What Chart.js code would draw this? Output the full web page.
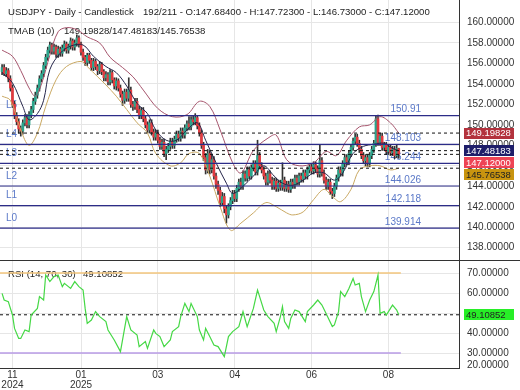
<!DOCTYPE html>
<html>
<head>
<meta charset="utf-8">
<script src="https://cdn.jsdelivr.net/npm/chart.js@4.4.1/dist/chart.umd.min.js"></script>
<style>
html, body { margin: 0; padding: 0; background: #fff; }
#wrap { position: relative; width: 520px; height: 390px; overflow: hidden; }
canvas { position: absolute; left: 0; }
#main { top: 0; }
#rsi { top: 261px; }
</style>
</head>
<body>
<div id="wrap">
  <canvas id="main" width="520" height="261"></canvas>
  <canvas id="rsi" width="520" height="129"></canvas>
</div>
<script>
// candles (bar index 0..191)
const opens = [
  155.2, 155.6, 155.0, 155.3, 154.5, 153.6, 152.0, 150.9, 150.3, 149.6,
  149.4, 150.2, 150.7, 150.0, 151.0, 151.5, 152.3, 152.9, 153.6, 154.5,
  155.0, 155.8, 156.6, 157.3, 157.8, 157.2, 157.6, 156.9, 157.4, 157.0,
  157.5, 157.9, 157.3, 157.7, 158.2, 157.6, 158.0, 158.5, 157.9, 157.1,
  156.6, 156.1, 156.8, 156.3, 155.6, 156.2, 155.7, 155.3, 155.9, 155.2,
  154.6, 154.9, 154.2, 155.1, 154.4, 153.8, 154.3, 153.6, 153.0, 152.4,
  153.2, 152.6, 153.4, 152.0, 151.8, 152.3, 151.5, 150.9, 151.4, 150.6,
  150.0, 149.5, 150.2, 149.3, 148.8, 149.2, 148.5, 147.9, 148.3, 147.2,
  147.6, 147.9, 148.4, 148.0, 148.6, 149.1, 148.7, 149.4, 149.0, 149.7,
  150.1, 149.8, 150.5, 150.3, 150.7, 149.9, 149.2, 148.0, 146.8, 145.6,
  147.2, 145.6, 146.6, 145.0, 144.2, 143.6, 142.4, 143.0, 141.8, 141.2,
  142.0, 142.6, 143.3, 142.8, 143.8, 144.4, 144.0, 145.2, 144.8, 145.6,
  145.0, 145.8, 146.2, 145.4, 147.0, 146.0, 145.6, 145.0, 144.4, 145.2,
  144.6, 144.0, 144.5, 143.8, 144.3, 143.9, 144.6, 143.8, 144.2, 143.7,
  144.4, 144.1, 144.8, 144.4, 145.0, 144.7, 145.3, 145.0, 145.6, 145.9,
  145.5, 146.1, 145.7, 145.2, 146.5, 145.3, 144.6, 144.0, 144.4, 143.5,
  143.3, 144.0, 144.8, 145.6, 145.3, 146.2, 146.8, 146.4, 147.2, 147.8,
  148.4, 148.8, 148.2, 147.6, 147.0, 146.5, 146.8, 146.2, 147.0, 147.6,
  148.2, 150.6, 148.3, 148.9, 147.8, 148.0, 147.4, 147.8, 147.3, 147.6,
  147.0, 147.684
];
const highs = [
  155.9, 155.9, 155.6, 155.5, 154.8, 153.9, 152.3, 151.2, 150.6, 149.9,
  150.5, 151.0, 151.0, 151.3, 151.8, 152.6, 153.2, 153.9, 154.8, 155.3,
  156.1, 156.9, 157.6, 158.1, 158.0, 157.9, 157.8, 157.7, 157.6, 157.8,
  158.2, 158.1, 157.9, 158.5, 158.4, 158.3, 158.8, 158.7, 158.1, 157.4,
  156.8, 157.0, 157.0, 156.5, 156.5, 156.4, 155.9, 156.2, 156.1, 155.4,
  155.2, 155.1, 155.4, 155.3, 154.6, 154.6, 154.5, 153.9, 153.3, 153.5,
  153.5, 154.6, 153.7, 152.3, 152.6, 152.6, 151.8, 151.7, 151.7, 150.9,
  150.3, 150.5, 150.5, 149.6, 149.5, 149.5, 148.8, 148.6, 148.6, 147.9,
  148.2, 148.7, 148.7, 148.9, 149.4, 149.4, 149.7, 149.7, 150.0, 150.4,
  150.8, 150.8, 150.9, 151.1, 150.9, 150.2, 149.5, 148.3, 147.2, 147.6,
  147.5, 147.1, 146.9, 145.3, 144.5, 143.9, 143.4, 143.3, 142.1, 142.3,
  142.9, 143.6, 143.6, 144.1, 144.7, 144.8, 145.5, 145.5, 145.9, 145.9,
  146.1, 146.5, 146.5, 148.5, 147.3, 146.3, 145.9, 145.3, 145.5, 145.5,
  144.9, 144.8, 144.8, 144.6, 144.6, 146.3, 144.9, 144.5, 144.5, 144.7,
  144.7, 145.1, 145.1, 145.3, 145.3, 145.6, 145.6, 145.9, 146.2, 146.2,
  146.4, 146.4, 146.0, 148.1, 146.8, 145.6, 144.9, 144.7, 144.7, 143.8,
  144.3, 145.1, 145.9, 145.9, 146.5, 147.1, 147.1, 147.5, 148.1, 148.7,
  149.1, 149.1, 148.5, 147.9, 147.3, 147.1, 147.1, 147.3, 147.9, 148.5,
  150.9, 150.95, 149.2, 149.2, 148.3, 148.3, 148.1, 148.1, 147.9, 147.9,
  148.0, 147.723
];
const lows = [
  154.9, 154.8, 154.7, 154.2, 153.3, 151.7, 150.6, 150.0, 149.2, 148.9,
  149.1, 149.9, 149.7, 149.7, 150.7, 151.2, 152.0, 152.6, 153.3, 154.2,
  154.7, 155.5, 156.3, 157.0, 156.9, 156.9, 156.6, 156.6, 156.7, 156.7,
  157.2, 157.0, 157.0, 157.4, 157.3, 157.3, 157.7, 157.6, 156.8, 156.3,
  155.8, 155.8, 156.0, 155.3, 155.3, 155.4, 154.9, 155.0, 154.9, 154.3,
  154.3, 153.9, 153.9, 154.1, 153.5, 153.4, 153.3, 152.7, 151.9, 152.1,
  152.3, 152.3, 151.7, 151.4, 151.5, 151.2, 150.6, 150.6, 150.3, 149.7,
  149.2, 149.2, 149.0, 148.5, 148.5, 148.2, 147.6, 147.6, 146.9, 146.6,
  147.3, 147.6, 147.7, 147.7, 148.3, 148.4, 148.4, 148.7, 148.7, 149.4,
  149.5, 149.5, 150.0, 150.0, 149.6, 148.9, 147.7, 146.5, 145.2, 145.3,
  145.2, 145.3, 144.7, 143.8, 143.2, 142.0, 142.1, 141.4, 140.4, 140.9,
  141.7, 142.3, 142.5, 142.5, 143.5, 143.7, 143.7, 144.5, 144.5, 144.7,
  144.7, 145.5, 145.1, 145.1, 145.7, 145.3, 144.7, 144.1, 144.1, 144.3,
  143.7, 143.7, 143.5, 143.5, 143.6, 143.6, 143.5, 143.5, 143.4, 143.4,
  143.8, 143.8, 144.1, 144.1, 144.4, 144.4, 144.7, 144.7, 145.3, 145.2,
  145.2, 145.4, 144.9, 144.9, 145.0, 144.3, 143.7, 143.7, 143.2, 142.8,
  143.0, 143.7, 144.5, 145.0, 145.0, 145.9, 146.1, 146.1, 146.9, 147.5,
  148.1, 147.9, 147.3, 146.7, 146.2, 146.0, 145.9, 145.9, 146.7, 147.3,
  147.9, 148.0, 148.0, 147.5, 147.5, 147.1, 147.1, 147.0, 147.0, 146.7,
  146.8, 146.73
];
const closes = [
  155.6, 155.0, 155.3, 154.5, 153.6, 152.0, 150.9, 150.3, 149.6, 149.4,
  150.2, 150.7, 150.0, 151.0, 151.5, 152.3, 152.9, 153.6, 154.5, 155.0,
  155.8, 156.6, 157.3, 157.8, 157.2, 157.6, 156.9, 157.4, 157.0, 157.5,
  157.9, 157.3, 157.7, 158.2, 157.6, 158.0, 158.5, 157.9, 157.1, 156.6,
  156.1, 156.8, 156.3, 155.6, 156.2, 155.7, 155.3, 155.9, 155.2, 154.6,
  154.9, 154.2, 155.1, 154.4, 153.8, 154.3, 153.6, 153.0, 152.4, 153.2,
  152.6, 153.4, 152.0, 151.8, 152.3, 151.5, 150.9, 151.4, 150.6, 150.0,
  149.5, 150.2, 149.3, 148.8, 149.2, 148.5, 147.9, 148.3, 147.2, 147.6,
  147.9, 148.4, 148.0, 148.6, 149.1, 148.7, 149.4, 149.0, 149.7, 150.1,
  149.8, 150.5, 150.3, 150.7, 149.9, 149.2, 148.0, 146.8, 145.6, 147.2,
  145.6, 146.6, 145.0, 144.2, 143.6, 142.4, 143.0, 141.8, 141.2, 142.0,
  142.6, 143.3, 142.8, 143.8, 144.4, 144.0, 145.2, 144.8, 145.6, 145.0,
  145.8, 146.2, 145.4, 147.0, 146.0, 145.6, 145.0, 144.4, 145.2, 144.6,
  144.0, 144.5, 143.8, 144.3, 143.9, 144.6, 143.8, 144.2, 143.7, 144.4,
  144.1, 144.8, 144.4, 145.0, 144.7, 145.3, 145.0, 145.6, 145.9, 145.5,
  146.1, 145.7, 145.2, 146.5, 145.3, 144.6, 144.0, 144.4, 143.5, 143.3,
  144.0, 144.8, 145.6, 145.3, 146.2, 146.8, 146.4, 147.2, 147.8, 148.4,
  148.8, 148.2, 147.6, 147.0, 146.5, 146.8, 146.2, 147.0, 147.6, 148.2,
  150.6, 148.3, 148.9, 147.8, 148.0, 147.4, 147.8, 147.3, 147.6, 147.0,
  147.68, 147.12
];

// TMAB (10) bands as [bar, price]
const upperBand = [
  [0, 157.3], [5, 156.7], [9, 155.3], [13, 153.6], [16, 152.8], [19, 154.0], [23, 156.8],
  [27, 159.1], [31, 159.5], [36, 159.3], [41, 158.6], [47, 158.0], [52, 156.6], [58, 155.6],
  [63, 154.7], [68, 153.4], [75, 151.6], [82, 150.8], [89, 151.0], [95, 152.3], [100, 151.8],
  [105, 149.5], [111, 146.3], [115, 145.3], [121, 147.5], [128, 148.7], [132, 149.0],
  [137, 146.6], [143, 146.0], [150, 146.3], [156, 147.4], [161, 147.0], [166, 148.5],
  [172, 149.8], [177, 150.0], [182, 150.8], [187, 150.2], [191, 149.198]
];
const middleBand = [
  [0, 155.1], [5, 154.1], [10, 151.8], [13, 150.5], [17, 151.1], [20, 152.4], [23, 155.4],
  [28, 157.0], [33, 157.7], [39, 157.8], [44, 156.7], [50, 155.7], [55, 155.1], [60, 153.8],
  [65, 152.1], [70, 151.1], [74, 149.5], [79, 148.5], [84, 148.5], [89, 149.5], [94, 150.2],
  [98, 148.5], [103, 146.3], [108, 144.3], [111, 143.3], [116, 144.0], [121, 145.0],
  [126, 146.0], [131, 145.0], [135, 144.3], [140, 144.1], [145, 144.6], [150, 145.3],
  [155, 145.3], [160, 144.6], [164, 145.3], [169, 147.2], [174, 147.9], [179, 148.1],
  [184, 148.2], [188, 147.7], [191, 147.482]
];
const lowerBand = [
  [0, 152.8], [4, 152.4], [9, 149.5], [13, 148.0], [17, 149.2], [21, 151.8], [26, 154.4],
  [31, 155.7], [38, 156.2], [41, 155.7], [46, 154.7], [50, 153.9], [55, 152.8], [60, 151.5],
  [65, 150.2], [70, 149.2], [74, 147.2], [81, 146.0], [86, 146.3], [90, 147.2], [95, 147.2],
  [100, 145.0], [105, 142.0], [110, 139.7], [115, 140.4], [121, 141.4], [127, 142.4],
  [132, 142.0], [137, 141.4], [140, 141.2], [145, 141.5], [150, 142.7], [155, 143.7],
  [159, 143.0], [163, 142.5], [168, 143.7], [172, 145.6], [177, 146.0], [182, 146.0],
  [187, 145.6], [191, 145.765]
];

// RSI (14) as [bar, value]
const rsiPoints = [
  [0, 59.8], [1, 56.5], [3, 55.7], [5, 49], [6, 42.3], [8, 37.3], [9, 37.3], [11, 41.5],
  [13, 40.7], [14, 49], [17, 52.3], [18, 58.2], [20, 56.5], [21, 69], [23, 65.7], [25, 68.2],
  [27, 69], [29, 63.2], [30, 64.8], [33, 62.3], [35, 65.7], [37, 63.2], [39, 61.5], [40, 52.3],
  [41, 44.8], [43, 46.5], [45, 50.7], [47, 48.2], [50, 45.7], [51, 41.5], [54, 36.5], [57, 30.7],
  [60, 48.2], [62, 41.5], [65, 39], [66, 33.2], [69, 35.7], [70, 32.3], [73, 41.5], [74, 39.8],
  [76, 38.2], [78, 33.2], [81, 36.5], [82, 40.7], [85, 43.2], [86, 48.2], [88, 54.8], [90, 50.7],
  [91, 54.8], [94, 48.2], [95, 41.5], [97, 36.5], [98, 42.3], [100, 38.2], [102, 34], [104, 33.2],
  [107, 28.2], [109, 38.2], [111, 40.7], [114, 43.2], [116, 50.7], [118, 43.2], [121, 52.3],
  [123, 61.5], [124, 58.2], [126, 51.5], [128, 48.2], [131, 44.8], [132, 40.7], [134, 48.2],
  [135, 53.2], [136, 45.7], [138, 42.3], [139, 47.3], [141, 51.5], [143, 50.7], [146, 45.7],
  [147, 50.7], [150, 54], [152, 56.5], [154, 54], [156, 49.8], [159, 43.2], [160, 44],
  [162, 50.7], [163, 60.7], [165, 58.2], [167, 62.3], [169, 67.3], [170, 64], [172, 64.8],
  [173, 58.2], [175, 50.7], [177, 56.5], [179, 60.7], [181, 69], [182, 49.8], [184, 50.7],
  [185, 49], [187, 52.3], [188, 54], [190, 51.5], [191, 49.10852]
];

const levelValues = [139.914, 142.118, 144.026, 146.244, 148.103, 150.91];
const levelNames = ['L0', 'L1', 'L2', 'L3', 'L4', 'L5'];
const levelTexts = ['139.914', '142.118', '144.026', '146.244', '148.103', '150.91'];

const markValues = [149.19828, 147.48183, 147.12, 145.76538];
const markColors = ['#b3323d', '#1e1e6a', '#ee4455', '#c8940f'];
const markTextColors = ['#fff', '#fff', '#fff', '#222'];
const rsiNow = 49.10852;

const priceTicks = [138, 140, 142, 144, 146, 148, 150, 152, 154, 156, 158, 160];
const rsiTicks = [30, 40, 50, 60, 70];
const monthTicks = [5, 38, 75, 112, 149, 186];
const monthLabels = [['11', '2024'], ['01', '2025'], '03', '04', '06', '08'];

const FONT = "'Liberation Sans', Arial, sans-serif";
const X_MIN = -1, X_MAX = 220;
const UP = '#2aa58c', DOWN = '#e23a3f';
const GRID = '#e6e6e6';

function hline(v, x0, x1, color, width, dash, order) {
  return {
    type: 'line', data: [{ x: x0, y: v }, { x: x1, y: v }],
    borderColor: color, borderWidth: width, borderDash: dash || [],
    pointRadius: 0, order: order
  };
}
function band(points, color) {
  return {
    type: 'line', data: points.map(p => ({ x: p[0], y: p[1] })),
    borderColor: color, borderWidth: 1, pointRadius: 0, tension: 0.35, order: 3
  };
}
function fixY(s) { s.width = 61; s.paddingTop = 0; s.paddingBottom = 0; }

function xScale(showLabels) {
  return {
    type: 'linear', min: X_MIN, max: X_MAX, offset: false,
    afterBuildTicks: s => { s.ticks = monthTicks.map(v => ({ value: v })); },
    ticks: {
      display: showLabels, autoSkip: false, maxRotation: 0, padding: 2,
      color: '#333', font: { family: FONT, size: 10, lineHeight: 1 },
      callback: (v, i) => monthLabels[i]
    },
    grid: { color: GRID, drawTicks: false, offset: false },
    border: { display: showLabels, color: '#333', width: 1 },
    afterFit: s => { s.height = showLabels ? 22 : 0; s.paddingLeft = 0; s.paddingRight = 0; }
  };
}

function badge(ctx, y, text, bg, fg) {
  ctx.fillStyle = bg;
  ctx.fillRect(464, Math.round(y - 5.5), 50, 11);
  ctx.fillStyle = fg;
  ctx.font = '9.5px ' + FONT;
  ctx.textAlign = 'left';
  ctx.textBaseline = 'middle';
  ctx.fillText(text, 466, y + 0.5);
}

const mainDatasets = [
  {
    type: 'bar', data: closes.map((c, i) => ({ x: i, y: [lows[i], highs[i]] })),
    backgroundColor: '#333', barThickness: 1, grouped: false, order: 6
  },
  {
    type: 'bar', data: closes.map((c, i) => ({ x: i, y: [opens[i], c] })),
    backgroundColor: closes.map((c, i) => c >= opens[i] ? UP : DOWN),
    barThickness: 2, minBarLength: 1, grouped: false, order: 5
  },
  band(upperBand, '#a5546c'),
  band(middleBand, '#25254a'),
  band(lowerBand, '#c9a862')
];
levelValues.forEach(v => mainDatasets.push(hline(v, X_MIN, X_MAX, '#2c2c88', 1.2, null, 1)));
markValues.forEach(v => mainDatasets.push(hline(v, X_MIN, X_MAX, '#111', 1, [3, 3], 1)));

const mainText = {
  id: 'mainText',
  beforeDatasetsDraw(chart) {
    const ctx = chart.ctx, y = chart.scales.y;
    ctx.save();
    ctx.font = '9.6px ' + FONT;
    ctx.textBaseline = 'middle';
    ctx.fillStyle = '#222';
    ctx.textAlign = 'left';
    ctx.fillText('USDJPY - Daily - Candlestick', 8, 12);
    ctx.fillText('192/211 - O:147.68400 - H:147.72300 - L:146.73000 - C:147.12000', 143, 12);
    ctx.fillText('TMAB (10)', 8, 31);
    ctx.fillText('149.19828/147.48183/145.76538', 64, 31);
    ctx.font = '10px ' + FONT;
    ctx.fillStyle = '#5a78c8';
    levelValues.forEach((v, i) => {
      const py = y.getPixelForValue(v);
      ctx.textAlign = 'left';
      ctx.fillText(levelNames[i], 6, py - 10);
      ctx.textAlign = 'right';
      ctx.fillText(levelTexts[i], 421, py - 6);
    });
    ctx.restore();
  },
  afterDraw(chart) {
    const ctx = chart.ctx, y = chart.scales.y;
    ctx.save();
    let prev = -100;
    markValues.forEach((v, i) => {
      const py = Math.max(y.getPixelForValue(v), prev + 12);
      prev = py;
      badge(ctx, py, v.toFixed(5), markColors[i], markTextColors[i]);
    });
    ctx.strokeStyle = '#333';
    ctx.lineWidth = 1;
    ctx.beginPath();
    ctx.moveTo(0, 260.5);
    ctx.lineTo(520, 260.5);
    ctx.stroke();
    ctx.restore();
  }
};

new Chart(document.getElementById('main'), {
  data: { datasets: mainDatasets },
  options: {
    responsive: false, animation: false, events: [],
    layout: { padding: 0 },
    plugins: { legend: { display: false }, tooltip: { enabled: false } },
    scales: {
      x: xScale(false),
      y: {
        position: 'right', min: 136.7, max: 162.2,
        afterBuildTicks: s => { s.ticks = priceTicks.map(v => ({ value: v })); },
        ticks: { color: '#333', padding: 8, font: { family: FONT, size: 10 }, callback: v => v.toFixed(5) },
        grid: { color: GRID, drawTicks: false },
        border: { display: true, color: '#333', width: 1 },
        afterFit: fixY
      }
    }
  },
  plugins: [mainText]
});

const rsiText = {
  id: 'rsiText',
  beforeDatasetsDraw(chart) {
    const ctx = chart.ctx;
    ctx.save();
    ctx.font = '9.6px ' + FONT;
    ctx.textBaseline = 'middle';
    ctx.textAlign = 'left';
    ctx.fillStyle = '#222';
    ctx.fillText('RSI (14, 70, 30)', 8, 13);
    ctx.fillText(rsiNow.toFixed(5), 83, 13);
    ctx.restore();
  },
  afterDraw(chart) {
    const ctx = chart.ctx, y = chart.scales.y;
    ctx.save();
    badge(ctx, y.getPixelForValue(rsiNow), rsiNow.toFixed(5), '#27ee27', '#222');
    ctx.font = '10px ' + FONT;
    ctx.fillStyle = '#333';
    ctx.textAlign = 'left';
    ctx.textBaseline = 'middle';
    ctx.fillText('20.00000', 467, 104);
    ctx.restore();
  }
};

new Chart(document.getElementById('rsi'), {
  data: {
    datasets: [
      hline(70, X_MIN, 192, '#f3c67c', 1.5, null, 3),
      hline(30, X_MIN, 192, '#b89be6', 1.5, null, 3),
      hline(rsiNow, X_MIN, X_MAX, '#111', 1, [3, 3], 2),
      {
        type: 'line', data: rsiPoints.map(p => ({ x: p[0], y: p[1] })),
        borderColor: '#45d845', borderWidth: 1.2, pointRadius: 0, tension: 0, order: 1
      }
    ]
  },
  options: {
    responsive: false, animation: false, events: [],
    layout: { padding: 0 },
    plugins: { legend: { display: false }, tooltip: { enabled: false } },
    scales: {
      x: xScale(true),
      y: {
        position: 'right', min: 22.5, max: 76,
        afterBuildTicks: s => { s.ticks = rsiTicks.map(v => ({ value: v })); },
        // the 50 label sits under the current-value badge, as in the source
        ticks: { color: '#333', padding: 8, font: { family: FONT, size: 10 }, callback: v => v === 50 ? '' : v.toFixed(5) },
        grid: { color: GRID, drawTicks: false },
        border: { display: true, color: '#333', width: 1 },
        afterFit: fixY
      }
    }
  },
  plugins: [rsiText]
});
</script>
</body>
</html>
